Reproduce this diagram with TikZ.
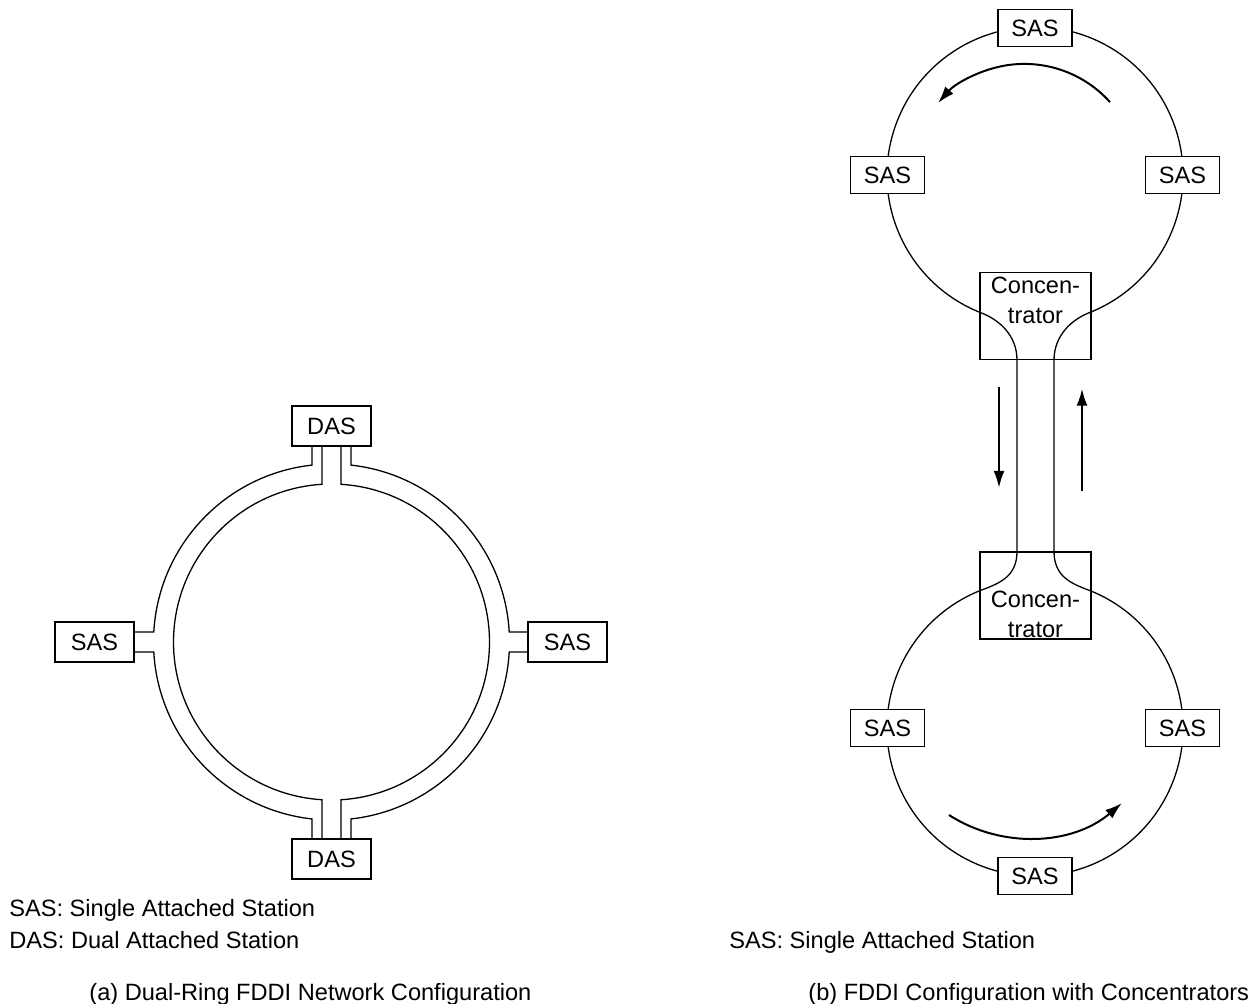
\documentclass[tikz,border=0pt]{standalone}
\usepackage{fontspec}
\setmainfont{Liberation Sans}
\usetikzlibrary{arrows.meta, positioning, calc, backgrounds}

\begin{document}
\begin{tikzpicture}[
  x=0.5pt, y=-0.5pt,
  font=\fontsize{11.8}{15}\selectfont,
  stn/.style={rectangle, draw, fill=white, line width=0.7pt, inner sep=0pt,
              minimum width=39.5pt, minimum height=20pt},
  stnsm/.style={stn, minimum width=37pt, minimum height=18.5pt},
  conc/.style={rectangle, draw, line width=0.7pt, minimum width=55.5pt, minimum height=43.5pt},
  ring/.style={line width=0.65pt},
  arr/.style={-{Latex[length=8.5pt, width=5.5pt]}, line width=1pt},
  key/.style={anchor=base west, inner sep=0pt},
]
\useasboundingbox (0,0) rectangle (1257,1003);

% (a) dual ring
\coordinate (ca) at (331.5,642);
\node[stn] (dasT) at (331.5,426) {DAS};
\node[stn] (dasB) at (331.5,859) {DAS};
\node[stn] (sasL) at (94.5,642) {SAS};
\node[stn] (sasR) at (567.5,642) {SAS};

\begin{scope}[on background layer]
\draw[ring] ([xshift=9.75pt]dasT.south) -- ($(ca)+(-83.7:178)$)
  arc[start angle=-83.7, end angle=-3.2, radius=178] -- ([yshift=5pt]sasR.west);
\draw[ring] ([yshift=-5pt]sasR.west) -- ($(ca)+(3.2:178)$)
  arc[start angle=3.2, end angle=83.7, radius=178] -- ([xshift=9.75pt]dasB.north);
\draw[ring] ([xshift=-9.75pt]dasB.north) -- ($(ca)+(96.3:178)$)
  arc[start angle=96.3, end angle=176.8, radius=178] -- ([yshift=-5pt]sasL.east);
\draw[ring] ([yshift=5pt]sasL.east) -- ($(ca)+(183.2:178)$)
  arc[start angle=183.2, end angle=263.7, radius=178] -- ([xshift=-9.75pt]dasT.south);
% inner ring
\draw[ring] ([xshift=4.75pt]dasT.south) -- ($(ca)+(-86.55:158)$)
  arc[start angle=-86.55, end angle=86.55, radius=158] -- ([xshift=4.75pt]dasB.north);
\draw[ring] ([xshift=-4.75pt]dasB.north) -- ($(ca)+(93.45:158)$)
  arc[start angle=93.45, end angle=266.55, radius=158] -- ([xshift=-4.75pt]dasT.south);
\end{scope}

\node[key] (keyA1) at (9,916.5) {SAS: Single Attached Station};
\node[key] (keyA2) at (9,948) {DAS: Dual Attached Station};
\node[key] (capA) at (89,1000) {(a) Dual-Ring FDDI Network Configuration};

% (b) two rings joined by concentrators
\coordinate (ct) at (1035,175);
\coordinate (cb) at (1035,728);
\node[stnsm] (sasT1) at (1035,28) {SAS};
\node[stnsm] (sasT2) at (887.5,175) {SAS};
\node[stnsm] (sasT3) at (1182.5,175) {SAS};
\node[stnsm] (sasB1) at (887.5,728) {SAS};
\node[stnsm] (sasB2) at (1182.5,728) {SAS};
\node[stnsm] (sasB3) at (1035,876) {SAS};
\node[conc] (conT) at (1035.5,316) {};
\node[conc] (conB) at (1035.5,595.5) {};
\node[align=center, anchor=north, inner sep=2.5pt] (conTlbl) at (conT.north) {Concen-\\trator};
\node[align=center, anchor=south, inner sep=1pt] (conBlbl) at (conB.south) {Concen-\\trator};

\begin{scope}[on background layer]
\draw[ring] ([xshift=-9.25pt]conB.north) -- ([xshift=-9.25pt]conT.south)
  .. controls +(0,-25) and +(19,7) .. ($(ct)+(111.8:148)$)
  arc[start angle=111.8, end angle=427.8, radius=148]
  .. controls +(-19,7) and +(0,-25) .. ([xshift=9.25pt]conT.south)
  -- ([xshift=9.25pt]conB.north)
  .. controls +(0,25) and +(-19,-7) .. ($(cb)+(-68.3:148)$)
  arc[start angle=-68.3, end angle=248.6, radius=148]
  .. controls +(19,-7) and +(0,25) .. ([xshift=-9.25pt]conB.north) -- cycle;
\end{scope}

% flow direction
\coordinate (flowT) at (1024.4,178.9);
\coordinate (flowB) at (1027.4,692.8);
\draw[arr] ($(flowT)+(-41.9:115)$) arc[start angle=-41.9, end angle=-138.7, radius=115];
\draw[arr] ($(flowB)+(122.7:145.2)$) arc[start angle=122.7, end angle=49.4, radius=145.2];
\draw[arr] ([xshift=-18.25pt, yshift=-13.25pt]conT.south) -- ([xshift=-18.25pt, yshift=31.75pt]conB.north);
\draw[arr] ([xshift=23.25pt, yshift=30.25pt]conB.north) -- ([xshift=23.25pt, yshift=-14.25pt]conT.south);

\node[key] (keyB) at (729,948) {SAS: Single Attached Station};
\node[key] (capB) at (808,1000) {(b) FDDI Configuration with Concentrators};
\end{tikzpicture}
\end{document}
